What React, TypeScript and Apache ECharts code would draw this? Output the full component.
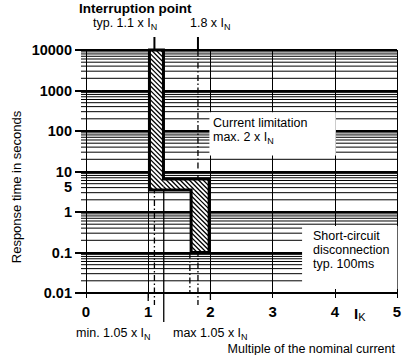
import React, { useEffect, useRef } from 'react';
import * as echarts from 'echarts';

const FONT = '"Liberation Sans", Arial, Helvetica, sans-serif';

// ---- axes ----
const xMin = 0;
const xMax = 5;
const xTickLabels = ['0', '1', '2', '3', '4', '5'];
const yMin = 0.01;
const yMax = 10000;
const yDecadeLabels = ['0.01', '0.1', '1', '10', '100', '1000', '10000'];
const yExtraTickValue = 5;
const yExtraTickLabel = '5';
const minorMultipliers = [2, 3, 4, 5, 6, 7, 8, 9];
const minorDecades = [0.01, 0.1, 1, 10, 100, 1000];

// ---- trip band outline (multiple of I_N, seconds) ----
const bandX = [1.02, 1.245, 1.245, 1.98, 1.98, 1.69, 1.69, 1.02];
const bandY = [10000, 10000, 6.5, 6.5, 0.1, 0.1, 3.5, 3.5];
// hatched parts of the band
const hatchX0 = [1.02, 1.245, 1.69];
const hatchX1 = [1.245, 1.98, 1.98];
const hatchYLow = [3.5, 3.5, 0.1];
const hatchYHigh = [10000, 6.5, 3.5];

// ---- white label boxes ----
const boxX0 = [2, 3.49];
const boxX1 = [4, 4.99];
const boxYLow = [25, 0.0125];
const boxYHigh = [290, 0.45];

// ---- marker lines ----
const markerX = [1.1, 1.8, 1.67, 1.25, 1.0, 2.0];
const markerYTop = [10000, 10000, 0.1, 10000, 0.01, 0.01];
const markerDashed = [true, true, true, false, false, false];
// styling: pixel stubs above plot / extensions below axis
const markerStubAbove = [13, 13, 0, 0, 0, 0];
const markerExtendBelow = [12, 12, 0, 29, 8, 7];

const minorValues: number[] = [];
minorDecades.forEach((d) => minorMultipliers.forEach((m) => minorValues.push(+(m * d).toPrecision(3))));

const smallRich = {
  m: { fontSize: 12.5, fontFamily: FONT, fill: '#000', lineHeight: 16 },
  s: { fontSize: 9, fontFamily: FONT, fill: '#000', lineHeight: 8, verticalAlign: 'bottom' },
};

function plainText(x: number, y: number, text: string, extra: any = {}) {
  return {
    type: 'text',
    x,
    y,
    z: 100,
    style: {
      text,
      fill: '#000',
      fontSize: 12.5,
      fontFamily: FONT,
      textAlign: 'left',
      textVerticalAlign: 'middle',
      ...extra,
    },
  };
}

function richText(x: number, y: number, text: string) {
  return {
    type: 'text',
    x,
    y,
    z: 100,
    style: {
      text,
      rich: smallRich,
      fill: '#000',
      fontSize: 12.5,
      fontFamily: FONT,
      textAlign: 'left',
      textVerticalAlign: 'middle',
    },
  };
}

function buildOption() {
  return {
    animation: false,
    backgroundColor: '#fff',
    grid: { left: 86, right: 11, top: 50, bottom: 62, containLabel: false, outerBoundsMode: 'none' },
    xAxis: {
      type: 'value',
      min: xMin,
      max: xMax,
      interval: 1,
      axisLine: { show: true, lineStyle: { color: '#000', width: 1 } },
      axisTick: { show: true, length: 5, lineStyle: { color: '#000', width: 1 } },
      axisLabel: {
        margin: 11,
        color: '#000',
        fontFamily: FONT,
        fontSize: 15,
        fontWeight: 'bold',
        formatter: (v: number) => xTickLabels[Math.round(v)] ?? '',
      },
      splitLine: { show: true, lineStyle: { color: '#000', width: 1 } },
    },
    yAxis: {
      type: 'log',
      logBase: 10,
      min: yMin,
      max: yMax,
      splitNumber: 6,
      axisLine: { show: true, lineStyle: { color: '#000', width: 1 } },
      axisTick: { show: true, length: 11, lineStyle: { color: '#000', width: 2 } },
      axisLabel: {
        margin: 14,
        color: '#000',
        fontFamily: FONT,
        fontSize: 14.5,
        lineHeight: 13,
        fontWeight: 'bold',
        formatter: (v: number) => yDecadeLabels[Math.round(Math.log10(v)) + 2] ?? '',
      },
      splitLine: { show: true, lineStyle: { color: '#000', width: 2 } },
      minorTick: { show: false },
      minorSplitLine: { show: false },
    },
    series: [
      {
        type: 'custom',
        name: 'minorGrid',
        silent: true,
        data: minorValues.map((v) => [xMin, v]),
        renderItem: (params: any, api: any) => {
          const v = api.value(1);
          const p0 = api.coord([xMin, v]);
          const p1 = api.coord([xMax, v]);
          return {
            type: 'line',
            shape: { x1: p0[0] - 5, y1: p0[1], x2: p1[0], y2: p1[1] },
            style: { stroke: '#000', lineWidth: 1 },
          };
        },
      },
      {
        type: 'custom',
        name: 'boxes',
        silent: true,
        data: boxX0.map((x, i) => [x, boxYLow[i], boxX1[i], boxYHigh[i]]),
        encode: { x: [0, 2], y: [1, 3] },
        renderItem: (params: any, api: any) => {
          const a = api.coord([api.value(0), api.value(3)]);
          const b = api.coord([api.value(2), api.value(1)]);
          return {
            type: 'rect',
            shape: { x: a[0] - 1, y: a[1], width: b[0] - a[0] + 2, height: b[1] - a[1] },
            style: { fill: '#fff' },
          };
        },
      },
      {
        type: 'custom',
        name: 'markers',
        silent: true,
        data: markerX.map((x, i) => [x, markerYTop[i]]),
        renderItem: (params: any, api: any) => {
          const i = params.dataIndex;
          const top = api.coord([api.value(0), api.value(1)]);
          const bottom = api.coord([api.value(0), yMin]);
          const children: any[] = [];
          children.push({
            type: 'line',
            shape: { x1: top[0], y1: top[1], x2: bottom[0], y2: bottom[1] + markerExtendBelow[i] },
            style: {
              stroke: '#000',
              lineWidth: 1.3,
              lineDash: markerDashed[i] ? [6, 2.5, 1.5, 2.5] : null,
            },
          });
          if (markerStubAbove[i] > 0) {
            children.push({
              type: 'line',
              shape: { x1: top[0], y1: top[1] - markerStubAbove[i], x2: top[0], y2: top[1] },
              style: { stroke: '#000', lineWidth: 2 },
            });
          }
          return { type: 'group', children };
        },
      },
      {
        type: 'custom',
        name: 'band',
        silent: true,
        data: [[bandX[0], bandY[0]]],
        renderItem: (params: any, api: any) => {
          const pts = bandX.map((x, i) => api.coord([x, bandY[i]]));
          const children: any[] = [];
          children.push({ type: 'polygon', shape: { points: pts }, style: { fill: '#fff' } });
          const step = 4.6;
          hatchX0.forEach((x0, r) => {
            const a = api.coord([x0, hatchYHigh[r]]);
            const b = api.coord([hatchX1[r], hatchYLow[r]]);
            const px0 = a[0], py0 = a[1], px1 = b[0], py1 = b[1];
            const kStart = Math.floor((px0 - py1) / step);
            const kEnd = Math.ceil((px1 - py0) / step);
            for (let k = kStart; k <= kEnd; k++) {
              const c = k * step;
              const xa = Math.max(px0, py0 + c);
              const xb = Math.min(px1, py1 + c);
              if (xb - xa > 0.2) {
                children.push({
                  type: 'line',
                  shape: { x1: xa, y1: xa - c, x2: xb, y2: xb - c },
                  style: { stroke: '#000', lineWidth: 1.3 },
                });
              }
            }
          });
          children.push({
            type: 'polygon',
            shape: { points: pts },
            style: { fill: 'none', stroke: '#000', lineWidth: 3, lineJoin: 'miter' },
          });
          return { type: 'group', children };
        },
      },
      {
        type: 'custom',
        name: 'extraTick',
        silent: true,
        data: [[xMin, yExtraTickValue]],
        renderItem: (params: any, api: any) => {
          const p = api.coord([api.value(0), api.value(1)]);
          return {
            type: 'text',
            x: p[0] - 14,
            y: p[1] + 3,
            style: {
              text: yExtraTickLabel,
              fill: '#000',
              fontSize: 14.5,
              lineHeight: 13,
              fontWeight: 'bold',
              fontFamily: FONT,
              textAlign: 'right',
              textVerticalAlign: 'middle',
            },
          };
        },
      },
    ],
    graphic: {
      elements: [
        plainText(79, 8, 'Interruption point', { fontSize: 13.5, fontWeight: 'bold' }),
        richText(93, 23, '{m|typ. 1.1 x I}{s|N}'),
        richText(190, 23, '{m|1.8 x I}{s|N}'),
        plainText(213, 123, 'Current limitation'),
        richText(213, 137, '{m|max. 2 x I}{s|N}'),
        plainText(313, 236, 'Short-circuit'),
        plainText(313, 250, 'disconnection'),
        plainText(313, 264, 'typ. 100ms'),
        richText(76, 333, '{m|min. 1.05 x I}{s|N}'),
        richText(173, 333, '{m|max 1.05 x I}{s|N}'),
        plainText(395, 349, 'Multiple of the nominal current', { textAlign: 'right' }),
        {
          type: 'text',
          x: 16,
          y: 187,
          rotation: Math.PI / 2,
          z: 100,
          style: {
            text: 'Response time in seconds',
            fill: '#000',
            fontSize: 13,
            fontFamily: FONT,
            textAlign: 'center',
            textVerticalAlign: 'middle',
          },
        },
        {
          type: 'text',
          x: 354,
          y: 313,
          z: 100,
          style: {
            text: '{b|I}{k|K}',
            rich: {
              b: { fontSize: 15, fontWeight: 'bold', fontFamily: FONT, fill: '#000', lineHeight: 18 },
              k: { fontSize: 11, fontFamily: FONT, fill: '#000', lineHeight: 10, verticalAlign: 'bottom' },
            },
            fill: '#000',
            fontFamily: FONT,
            textAlign: 'left',
            textVerticalAlign: 'middle',
          },
        },
      ],
    },
  };
}

export default function App() {
  const ref = useRef<HTMLDivElement>(null);
  useEffect(() => {
    if (!ref.current) return;
    const chart = echarts.init(ref.current, null, { renderer: 'svg' });
    chart.setOption(buildOption() as any);
    return () => chart.dispose();
  }, []);
  return (
    <div
      ref={ref}
      style={{ position: 'absolute', left: 0, top: 0, width: 408, height: 355, background: '#fff' }}
    />
  );
}
